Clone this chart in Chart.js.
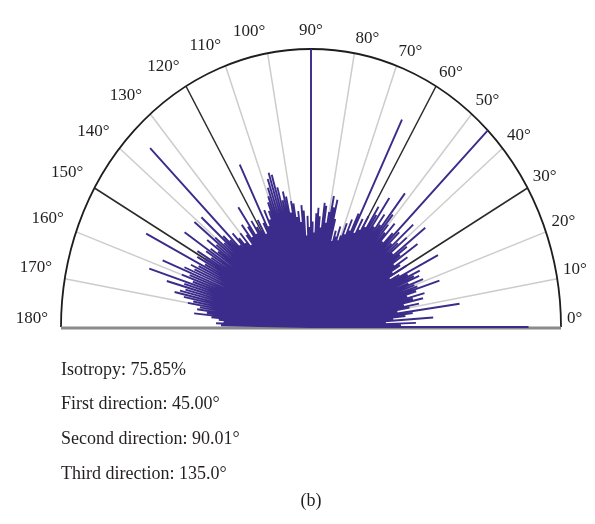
<!DOCTYPE html>
<html>
<head>
<meta charset="utf-8">
<script src="https://cdn.jsdelivr.net/npm/chart.js@4"></script>
<style>
    html, body { margin: 0; padding: 0; background: #fff; }
    #wrap { position: relative; width: 595px; height: 524px; }
    .note { position: absolute; left: 61px; font: 18px "Liberation Serif", serif; color: #231f20; line-height: 20px; white-space: nowrap; }
</style>
</head>
<body>
<div id="wrap">
    <canvas id="rose" width="595" height="524"></canvas>
    <div class="note" style="top:359px">Isotropy: 75.85%</div>
    <div class="note" style="top:393px">First direction: 45.00°</div>
    <div class="note" style="top:428px">Second direction: 90.01°</div>
    <div class="note" style="top:463px">Third direction: 135.0°</div>
    <div class="note" style="left:0;width:622px;text-align:center;top:490px">(b)</div>
</div>
<script>
// direction of each spike (degrees) and its relative length (1 = outer arc)
var angleDeg = [
    0, 1, 2, 3, 4, 5, 6, 7, 8, 9,
    10, 11, 12, 13, 14, 15, 16, 17, 18, 19,
    20, 21, 22, 23, 24, 25, 26, 27, 28, 29,
    30, 31, 32, 33, 34, 35, 36, 37, 38, 39,
    40, 41, 42, 43, 44, 45, 46, 47, 48, 49,
    50, 51, 52, 53, 54, 55, 56, 57, 58, 59,
    60, 61, 62, 63, 64, 65, 66, 67, 68, 69,
    70, 71, 72, 73, 74, 75, 76, 77, 78, 79,
    80, 81, 82, 83, 84, 85, 86, 87, 88, 89,
    90, 91, 92, 93, 94, 95, 96, 97, 98, 99,
    100, 101, 102, 103, 104, 105, 106, 107, 108, 109,
    110, 111, 112, 113, 114, 115, 116, 117, 118, 119,
    120, 121, 122, 123, 124, 125, 126, 127, 128, 129,
    130, 131, 132, 133, 134, 135, 136, 137, 138, 139,
    140, 141, 142, 143, 144, 145, 146, 147, 148, 149,
    150, 151, 152, 153, 154, 155, 156, 157, 158, 159,
    160, 161, 162, 163, 164, 165, 166, 167, 168, 169,
    170, 171, 172, 173, 174, 175, 176, 177, 178, 179
];
var lengths = [
    0.87, 0.36, 0.42, 0.30, 0.49, 0.33, 0.38, 0.41, 0.60, 0.35,
    0.40, 0.44, 0.38, 0.46, 0.42, 0.47, 0.40, 0.44, 0.54, 0.45,
    0.44, 0.48, 0.42, 0.47, 0.45, 0.48, 0.43, 0.57, 0.40, 0.36,
    0.44, 0.38, 0.42, 0.46, 0.40, 0.52, 0.44, 0.48, 0.58, 0.42,
    0.50, 0.46, 0.55, 0.44, 0.49, 1.00, 0.47, 0.42, 0.50, 0.45,
    0.48, 0.52, 0.61, 0.46, 0.50, 0.44, 0.56, 0.48, 0.51, 0.42,
    0.46, 0.40, 0.44, 0.38, 0.83, 0.45, 0.38, 0.42, 0.36, 0.40,
    0.35, 0.33, 0.38, 0.34, 0.36, 0.32, 0.40, 0.47, 0.44, 0.48,
    0.42, 0.38, 0.44, 0.45, 0.36, 0.40, 0.43, 0.41, 0.34, 0.38,
    1.00, 0.36, 0.40, 0.33, 0.42, 0.44, 0.38, 0.42, 0.40, 0.45,
    0.46, 0.42, 0.48, 0.50, 0.47, 0.52, 0.57, 0.58, 0.56, 0.53,
    0.50, 0.48, 0.45, 0.42, 0.46, 0.40, 0.65, 0.42, 0.38, 0.44,
    0.40, 0.42, 0.45, 0.40, 0.52, 0.44, 0.40, 0.46, 0.42, 0.38,
    0.44, 0.40, 0.43, 0.46, 0.41, 0.91, 0.45, 0.48, 0.59, 0.46,
    0.50, 0.60, 0.48, 0.52, 0.46, 0.49, 0.61, 0.50, 0.47, 0.53,
    0.49, 0.52, 0.48, 0.74, 0.50, 0.53, 0.51, 0.55, 0.64, 0.52,
    0.55, 0.50, 0.68, 0.53, 0.60, 0.52, 0.54, 0.56, 0.52, 0.48,
    0.50, 0.45, 0.46, 0.42, 0.47, 0.40, 0.37, 0.35, 0.38, 0.36
];
var tickAngles = [0, 10, 20, 30, 40, 50, 60, 70, 80, 90, 100, 110, 120, 130, 140, 150, 160, 170, 180];
var tickLabels = ['0°', '10°', '20°', '30°', '40°', '50°', '60°', '70°', '80°', '90°',
    '100°', '110°', '120°', '130°', '140°', '150°', '160°', '170°', '180°'];
var darkRays = [30, 60, 120, 150];

// each spike goes out from the centre and back again
var spikes = [];
for (var i = 0; i < angleDeg.length; i++) {
    var a = angleDeg[i] * Math.PI / 180;
    spikes.push({x: 0, y: 0});
    spikes.push({x: lengths[i] * Math.cos(a), y: lengths[i] * Math.sin(a)});
}

var roseFrame = {
    id: 'roseFrame',
    beforeDatasetsDraw: function (chart) {
        var sx = chart.scales.x, sy = chart.scales.y, ctx = chart.ctx;
        var cx = sx.getPixelForValue(0), cy = sy.getPixelForValue(0);
        ctx.save();
        tickAngles.forEach(function (deg) {
            if (deg === 0 || deg === 180) return;
            var a = deg * Math.PI / 180;
            ctx.beginPath();
            ctx.moveTo(cx, cy);
            ctx.lineTo(sx.getPixelForValue(Math.cos(a)), sy.getPixelForValue(Math.sin(a)));
            ctx.strokeStyle = darkRays.indexOf(deg) >= 0 ? '#2a2a2a' : '#cccccc';
            ctx.lineWidth = 1.5;
            ctx.stroke();
        });
        var rx = sx.getPixelForValue(1) - cx, ry = cy - sy.getPixelForValue(1);
        ctx.beginPath();
        ctx.ellipse(cx, cy, rx, ry, 0, Math.PI, 2 * Math.PI);
        ctx.strokeStyle = '#1e1e1e';
        ctx.lineWidth = 1.8;
        ctx.stroke();
        ctx.beginPath();
        ctx.moveTo(cx - rx, cy + 1);
        ctx.lineTo(cx + rx, cy + 1);
        ctx.strokeStyle = '#8a8a8a';
        ctx.lineWidth = 3;
        ctx.stroke();
        ctx.restore();
    },
    afterDraw: function (chart) {
        var sx = chart.scales.x, sy = chart.scales.y, ctx = chart.ctx;
        ctx.save();
        ctx.font = '17px "Liberation Serif", serif';
        ctx.fillStyle = '#231f20';
        ctx.textBaseline = 'bottom';
        tickAngles.forEach(function (deg, k) {
            var a = deg * Math.PI / 180;
            var off = deg < 90 ? 6 : (deg > 90 ? 13 : 10);
            var px = sx.getPixelForValue(Math.cos(a)) + off * Math.cos(a);
            var py = sy.getPixelForValue(Math.sin(a)) - off * Math.sin(a);
            ctx.textAlign = deg < 90 ? 'left' : (deg > 90 ? 'right' : 'center');
            ctx.fillText(tickLabels[k], px, py);
        });
        ctx.restore();
    }
};

var chart = new Chart(document.getElementById('rose'), {
    type: 'scatter',
    data: {
        datasets: [{
            data: spikes,
            showLine: true,
            borderColor: '#3b2b8a',
            borderWidth: 1.9,
            borderJoinStyle: 'bevel',
            pointRadius: 0,
            clip: false
        }]
    },
    options: {
        responsive: false,
        animation: false,
        layout: {padding: {left: 61, right: 34, top: 49, bottom: 197}},
        scales: {
            x: {type: 'linear', min: -1, max: 1, display: false},
            y: {type: 'linear', min: 0, max: 1, display: false}
        },
        plugins: {legend: {display: false}, tooltip: {enabled: false}}
    },
    plugins: [roseFrame]
});
</script>
</body>
</html>
